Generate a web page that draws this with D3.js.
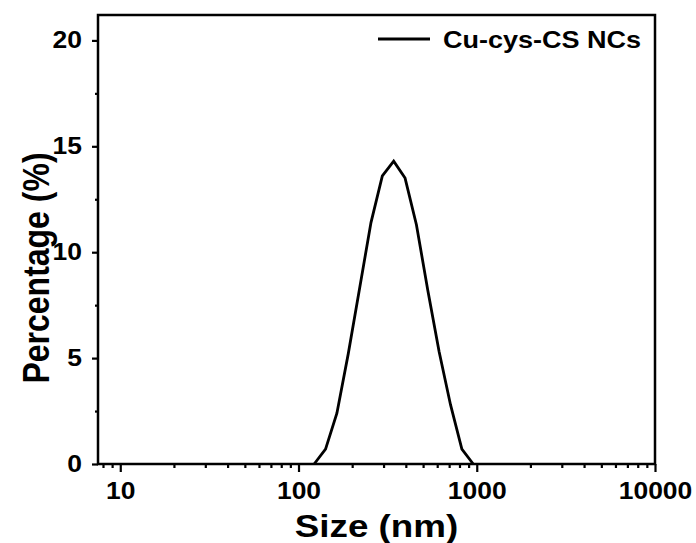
<!DOCTYPE html>
<html>
<head>
<meta charset="utf-8">
<script src="https://cdn.jsdelivr.net/npm/d3@7"></script>
<style>
  body { margin: 0; background: #fff; }
  svg text { font-family: "Liberation Sans", Arial, sans-serif; font-weight: bold; fill: #000; }
</style>
</head>
<body>
<svg id="chart"></svg>
<script>
// DLS size bins (nm) and percentage
var sizes = [122.4, 141.8, 164.2, 190.1, 220.2, 255.0, 295.3, 342.0, 396.1, 458.7, 531.2, 615.1, 712.4, 825.0, 955.4];
var percent = [0, 0.7, 2.4, 5.2, 8.3, 11.4, 13.6, 14.3, 13.5, 11.3, 8.2, 5.3, 2.8, 0.7, 0];
var xTicks = [10, 100, 1000, 10000];
var yTicks = [0, 5, 10, 15, 20];
var seriesName = "Cu-cys-CS NCs";

var width = 696, height = 543;
var mLeft = 98, mRight = 655, mTop = 15, mBottom = 464;
var stretch = 1.15; // glyphs in the picture are a bit wide

var svg = d3.select("#chart").attr("width", width).attr("height", height);

var x = d3.scaleLog().domain([7.5, 10000]).range([mLeft, mRight]);
var y = d3.scaleLinear().domain([0, 21.2]).range([mBottom, mTop]);

// minor ticks
var xMinor = [8, 9];
[10, 100, 1000].forEach(function(d) {
    for (var k = 2; k <= 9; k++) xMinor.push(d * k);
});
var yMinor = [2.5, 7.5, 12.5, 17.5];

// x axis
var xAxis = svg.append("g")
    .attr("transform", "translate(0," + mBottom + ")")
    .call(d3.axisBottom(x).tickValues(xTicks).tickFormat(d3.format("d")).tickSize(8).tickPadding(11));
svg.append("g")
    .attr("class", "minor")
    .attr("transform", "translate(0," + mBottom + ")")
    .call(d3.axisBottom(x).tickValues(xMinor).tickFormat("").tickSize(4));

// y axis
var yAxis = svg.append("g")
    .attr("transform", "translate(" + mLeft + ",0)")
    .call(d3.axisLeft(y).tickValues(yTicks).tickSize(6).tickPadding(8));
svg.append("g")
    .attr("class", "minor")
    .attr("transform", "translate(" + mLeft + ",0)")
    .call(d3.axisLeft(y).tickValues(yMinor).tickFormat("").tickSize(3));

svg.selectAll(".domain").remove();
svg.selectAll(".tick line").attr("stroke", "#000").attr("stroke-width", 2.2);

xAxis.selectAll("text")
    .style("font-size", "23px")
    .attr("transform", "scale(" + stretch + ",1)");
yAxis.selectAll("text")
    .style("font-size", "23px")
    .attr("transform", "scale(" + stretch + ",1)");

// frame
svg.append("rect")
    .attr("x", mLeft).attr("y", mTop)
    .attr("width", mRight - mLeft).attr("height", mBottom - mTop)
    .attr("fill", "none").attr("stroke", "#000").attr("stroke-width", 2.5);

// curve
var line = d3.line()
    .x(function(d, i) { return x(sizes[i]); })
    .y(function(d) { return y(d); });
svg.append("path")
    .datum(percent)
    .attr("d", line)
    .attr("fill", "none")
    .attr("stroke", "#000")
    .attr("stroke-width", 2.8)
    .attr("stroke-linejoin", "miter");

// axis titles
svg.append("text")
    .attr("transform", "translate(" + ((mLeft + mRight) / 2) + ",537) scale(" + stretch + ",1)")
    .attr("text-anchor", "middle")
    .style("font-size", "32px")
    .text("Size (nm)");

svg.append("text")
    .attr("transform", "translate(49,268) scale(" + stretch + ",1) rotate(-90)")
    .attr("text-anchor", "middle")
    .style("font-size", "32px")
    .text("Percentage (%)");

// legend
svg.append("line")
    .attr("x1", 378).attr("x2", 430)
    .attr("y1", 39).attr("y2", 39)
    .attr("stroke", "#000").attr("stroke-width", 2.8);
svg.append("text")
    .attr("transform", "translate(443,48) scale(" + stretch + ",1)")
    .style("font-size", "23.5px")
    .text(seriesName);
</script>
</body>
</html>
